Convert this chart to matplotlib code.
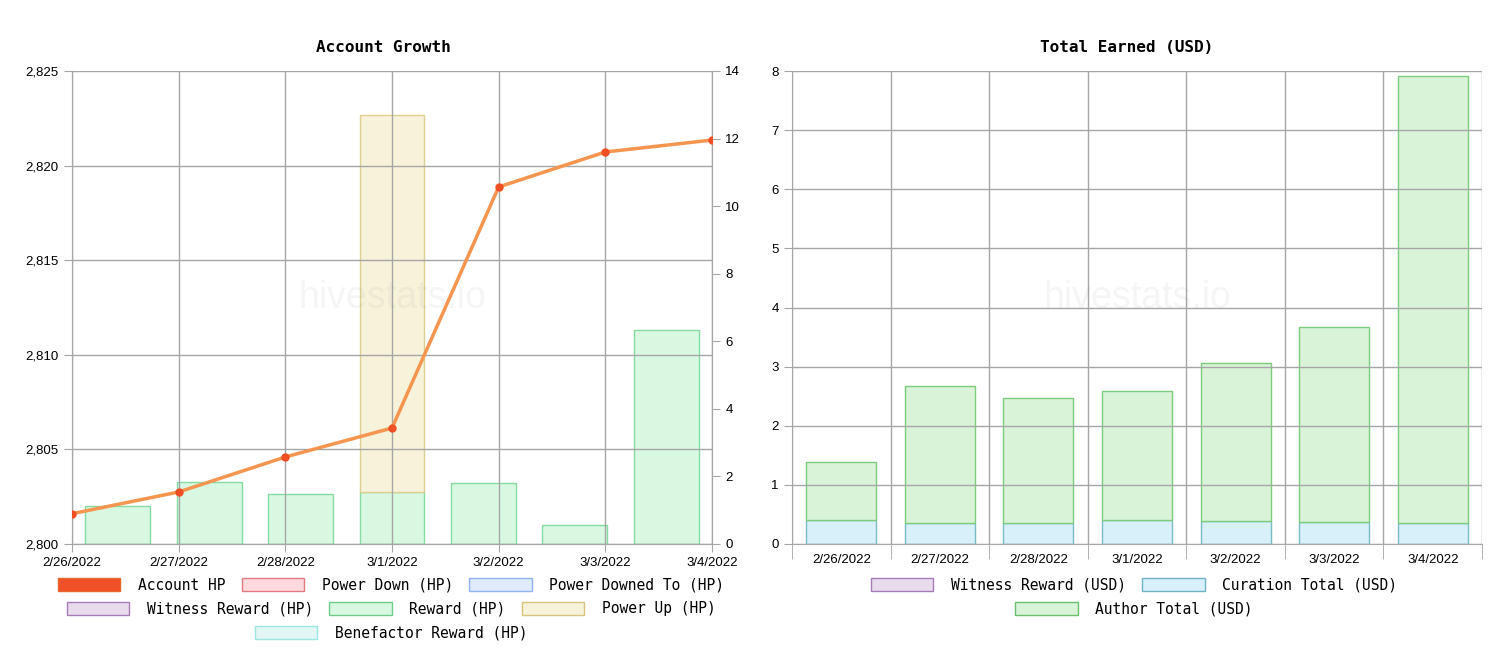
import matplotlib
matplotlib.use("Agg")
import matplotlib.pyplot as plt
import numpy as np
from matplotlib.patches import Patch
from matplotlib.ticker import FuncFormatter

dates = ["2/26/2022", "2/27/2022", "2/28/2022", "3/1/2022", "3/2/2022", "3/3/2022", "3/4/2022"]

# Account Growth
account_hp = [2801.6, 2802.75, 2804.6, 2806.13, 2818.87, 2820.72, 2821.35]
reward_hp = [1.12, 1.83, 1.48, 1.54, 1.81, 0.56, 6.33]
power_up_hp = [0, 0, 0, 11.16, 0, 0, 0]

# Total Earned (USD)
curation_usd = [0.40, 0.35, 0.36, 0.40, 0.39, 0.37, 0.35]
author_usd = [0.99, 2.32, 2.11, 2.19, 2.67, 3.30, 7.57]

W, H = 1494, 664
fig = plt.figure(figsize=(W / 100, H / 100), dpi=100)

MONO = ["DejaVu Sans Mono"]
TICKF = ["Liberation Sans Narrow", "Liberation Sans", "DejaVu Sans"]
GRID = "#a6a6a6"


def box(x0, y0, x1, y1):
    return [x0 / W, 1 - y1 / H, (x1 - x0) / W, (y1 - y0) / H]


def style_ticks(ax):
    for lab in ax.get_xticklabels() + ax.get_yticklabels():
        lab.set_fontfamily(TICKF)
        lab.set_fontsize(9.5)


def watermark(ax):
    ax.text(0.5, 0.52, "hivestats.io", transform=ax.transAxes, ha="center", va="center",
            fontsize=27, color="#888888", alpha=0.08,
            family=["Liberation Sans", "DejaVu Sans"], zorder=4)


def row_legend(handles, labels, y):
    leg = fig.legend(handles, labels, loc="center", bbox_to_anchor=y, ncol=len(handles),
                     frameon=False, prop={"family": MONO, "size": 10.5},
                     handlelength=4.3, handleheight=1.0, handletextpad=1.2,
                     columnspacing=1.1, borderaxespad=0)
    return leg


# ---------- left chart ----------
n = len(dates)
xb = np.arange(n)
pos_l = box(72, 71, 712, 544)

# bars first, on a category axis
axb = fig.add_axes(pos_l)
axb.bar(xb, reward_hp, width=0.71, color="#d8f8e2", edgecolor="#86dba0", linewidth=1, zorder=2)
pu_lw = [1 if v > 0 else 0 for v in power_up_hp]
axb.bar(xb, power_up_hp, width=0.71, bottom=reward_hp, color="#f7f2da", edgecolor="#dccf8f",
        linewidth=pu_lw, zorder=2)
axb.set_xlim(-0.5, n - 0.5)
axb.set_ylim(0, 14)
axb.axis("off")

# grid and axes on top, transparent
axl = fig.add_axes(pos_l, facecolor="none")
axr = axl.twinx()
axr.set_ylim(0, 14)
axr.set_yticks(range(0, 15, 2))
axr.tick_params(axis="y", length=6, color=GRID, labelsize=9.5)

axl.set_xlim(0, n - 1)
axl.set_ylim(2800, 2825)
axl.set_yticks(range(2800, 2826, 5))
axl.yaxis.set_major_formatter(FuncFormatter(lambda v, p: f"{int(v):,}"))
axl.set_xticks(range(n))
axl.set_xticklabels(dates)
axl.grid(True, color=GRID, linewidth=1)
axl.tick_params(axis="both", length=6, color=GRID, labelsize=9.5)
axl.tick_params(axis="x", pad=3)
watermark(axl)

# line drawn on top of everything
axline = fig.add_axes(pos_l, facecolor="none")
axline.plot(range(n), account_hp, color="#f5954f", linewidth=2.5, zorder=5)
axline.plot(range(n), account_hp, "o", color="#f04e23", markersize=5, zorder=6)
axline.set_xlim(0, n - 1)
axline.set_ylim(2800, 2825)
axline.axis("off")

for sp in list(axl.spines.values()) + list(axr.spines.values()):
    sp.set_color(GRID)
axl.spines["top"].set_visible(False)
axr.spines["top"].set_visible(False)
style_ticks(axl)
style_ticks(axr)

fig.text(383 / W, 1 - 47 / H, "Account Growth", ha="center", va="center",
         family=MONO, fontsize=11.5, fontweight="bold")

h_acc = Patch(facecolor="#f05028", edgecolor="#e8672c")
h_pd = Patch(facecolor="#ffd9dc", edgecolor="#e07b82")
h_pdt = Patch(facecolor="#e0ebfd", edgecolor="#8fb3f0")
h_wit = Patch(facecolor="#e8dcec", edgecolor="#a77bb8")
h_rew = Patch(facecolor="#d8f8e2", edgecolor="#6fcc88")
h_pu = Patch(facecolor="#f7f2da", edgecolor="#d6c47f")
h_ben = Patch(facecolor="#e2f6f4", edgecolor="#9ee6e0")

row_legend([h_acc, h_pd, h_pdt], ["Account HP", "Power Down (HP)", "Power Downed To (HP)"],
           (391 / W, 1 - 585 / H))
row_legend([h_wit, h_rew, h_pu], ["Witness Reward (HP)", "Reward (HP)", "Power Up (HP)"],
           (391 / W, 1 - 609 / H))
row_legend([h_ben], ["Benefactor Reward (HP)"], (391 / W, 1 - 633 / H))

# ---------- right chart ----------
ax2 = fig.add_axes(box(792, 71, 1482, 544))
ax2.bar(xb, curation_usd, width=0.71, color="#d7f0f9", edgecolor="#79bcc6", linewidth=1, zorder=2)
ax2.bar(xb, author_usd, width=0.71, bottom=curation_usd, color="#d9f3d9", edgecolor="#7ccc7c",
        linewidth=1, zorder=2)
watermark(ax2)
ax2.set_xlim(-0.5, n - 0.5)
ax2.set_ylim(0, 8)
ax2.set_yticks(range(0, 9))
ax2.set_xticks(xb)
ax2.set_xticklabels(dates)
ax2.set_xticks(np.arange(n + 1) - 0.5, minor=True)
ax2.tick_params(axis="x", which="major", length=0, pad=7)
ax2.tick_params(axis="x", which="minor", length=11, color=GRID)
ax2.tick_params(axis="y", length=6, color=GRID)
ax2.grid(True, axis="y", color=GRID, linewidth=1, zorder=3)
ax2.grid(True, axis="x", which="minor", color=GRID, linewidth=1)
ax2.set_axisbelow(False)
for sp in ax2.spines.values():
    sp.set_color(GRID)
ax2.spines["top"].set_visible(False)
ax2.spines["right"].set_visible(False)
style_ticks(ax2)

fig.text(1127 / W, 1 - 47 / H, "Total Earned (USD)", ha="center", va="center",
         family=MONO, fontsize=11.5, fontweight="bold")

h_wusd = Patch(facecolor="#e8dcec", edgecolor="#a77bb8")
h_cur = Patch(facecolor="#d7f0f9", edgecolor="#6fb3c2")
h_aut = Patch(facecolor="#d9f3d9", edgecolor="#6cbf6c")
row_legend([h_wusd, h_cur], ["Witness Reward (USD)", "Curation Total (USD)"],
           (1134 / W, 1 - 585 / H))
row_legend([h_aut], ["Author Total (USD)"], (1134 / W, 1 - 609 / H))

fig.savefig("out.png", dpi=100)
